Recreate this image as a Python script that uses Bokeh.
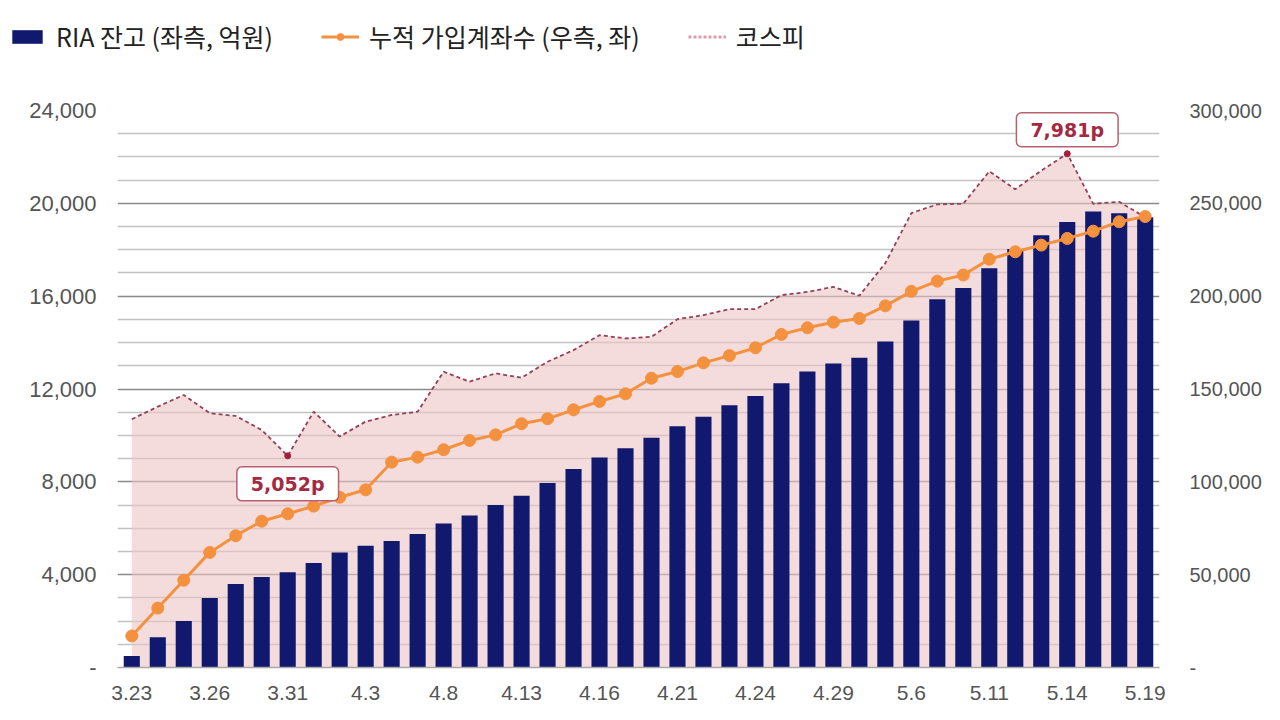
from bokeh.plotting import figure
from bokeh.layouts import column
from bokeh.models import (Range1d, LinearAxis, FixedTicker, NumeralTickFormatter,
                          Legend, LegendItem, Label, ColumnDataSource)
from bokeh.embed import file_html
from bokeh.resources import INLINE

# ---- data -------------------------------------------------------------
dates = ["3.23", "3.24", "3.25", "3.26", "3.27", "3.30", "3.31", "4.1", "4.2", "4.3",
         "4.6", "4.7", "4.8", "4.9", "4.10", "4.13", "4.14", "4.15", "4.16", "4.17",
         "4.20", "4.21", "4.22", "4.23", "4.24", "4.27", "4.28", "4.29", "4.30", "5.4",
         "5.6", "5.7", "5.8", "5.11", "5.12", "5.13", "5.14", "5.15", "5.18", "5.19"]
shown_dates = ["3.23", "3.26", "3.31", "4.3", "4.8", "4.13", "4.16", "4.21", "4.24",
               "4.29", "5.6", "5.11", "5.14", "5.19"]

# RIA balance (left axis, 100 million KRW)
ria_balance = [500, 1300, 2000, 3000, 3600, 3900, 4100, 4500, 4950, 5250,
               5450, 5750, 6200, 6550, 7000, 7400, 7950, 8550, 9050, 9450,
               9900, 10400, 10800, 11300, 11700, 12250, 12750, 13100, 13350, 14050,
               14950, 15870, 16350, 17200, 18030, 18630, 19200, 19650, 19570, 19400]

# cumulative accounts (right axis)
accounts = [17000, 32000, 47000, 62000, 71000, 78800, 82800, 86900, 91700, 95700,
            110600, 113300, 117300, 122300, 125300, 131300, 134000, 138800, 143300, 147400,
            155800, 159400, 164100, 168000, 172200, 179400, 183000, 186000, 188000, 194800,
            202600, 208100, 211400, 219900, 223900, 227500, 231100, 235000, 240100, 242900]

# KOSPI (hidden axis)
kospi = [5407, 5529, 5642, 5465, 5439, 5303, 5052, 5480, 5239, 5384,
         5448, 5480, 5867, 5771, 5852, 5809, 5964, 6077, 6222, 6190,
         6206, 6377, 6416, 6474, 6474, 6610, 6641, 6690, 6605, 6920,
         7405, 7490, 7496, 7810, 7637, 7817, 7981, 7495, 7515, 7365]

left_ticks = [0, 4000, 8000, 12000, 16000, 20000, 24000]
left_minor = [1000, 2000, 3000, 5000, 6000, 7000, 9000, 10000, 11000, 13000, 14000, 15000,
              17000, 18000, 19000, 21000, 22000, 23000]
right_ticks = [0, 50000, 100000, 150000, 200000, 250000, 300000]
left_max, right_max = 24000, 300000
kospi_floor, kospi_top = 3000, 8400
kospi_low_idx, kospi_high_idx = 6, 36

labels_series = ["RIA 잔고 (좌측, 억원)", "누적 가입계좌수 (우측, 좌)", "코스피"]

# ---- style ------------------------------------------------------------
BAR_COLOR = "#10196e"
ORANGE = "#f4913f"
KOSPI_LINE = "#95405a"
KOSPI_FILL = "#eec4c4"
TICK_FONT = "Liberation Sans"
TICK_COLOR = "#555555"

W = 1264
LEG_H = 74
MAIN_H = 704 - LEG_H
TOP, BOTTOM, LEFT, RIGHT = 36, 37, 117, 102

# ---- main chart ---------------------------------------------------------
xs = list(range(len(dates)))
src = ColumnDataSource(dict(x=xs, ria=ria_balance, acc=accounts, kospi=kospi,
                            base=[kospi_floor] * len(xs)))

p = figure(width=W, height=MAIN_H, x_range=Range1d(-0.55, len(dates) - 0.45),
           y_range=Range1d(0, left_max), output_backend="svg",
           toolbar_location=None, min_border_left=LEFT, min_border_right=RIGHT,
           min_border_top=TOP, min_border_bottom=BOTTOM)
p.extra_y_ranges = {"right": Range1d(0, right_max),
                    "kospi": Range1d(kospi_floor, kospi_top)}
p.outline_line_color = None

ya = p.yaxis[0]
ya.ticker = FixedTicker(ticks=left_ticks)
ya.formatter = NumeralTickFormatter(format="0,0")
ya.major_label_overrides = {0: "-"}
ya.axis_line_color = None
ya.major_tick_line_color = None
ya.minor_tick_line_color = None
ya.major_label_text_font = TICK_FONT
ya.major_label_text_font_size = "22px"
ya.major_label_text_color = TICK_COLOR
ya.major_label_standoff = 15

ra = LinearAxis(y_range_name="right", ticker=FixedTicker(ticks=right_ticks),
                formatter=NumeralTickFormatter(format="0,0"))
ra.major_label_overrides = {0: "-"}
ra.axis_line_color = None
ra.major_tick_line_color = None
ra.minor_tick_line_color = None
ra.major_label_text_font = TICK_FONT
ra.major_label_text_font_size = "20px"
ra.major_label_text_color = TICK_COLOR
ra.major_label_standoff = 24
p.add_layout(ra, "right")

xa = p.xaxis[0]
tick_idx = [dates.index(d) for d in shown_dates]
xa.ticker = FixedTicker(ticks=tick_idx)
xa.major_label_overrides = {i: dates[i] for i in tick_idx}
xa.axis_line_color = "#a8a8a8"
xa.axis_line_width = 1.5
xa.major_tick_line_color = None
xa.minor_tick_line_color = None
xa.major_label_text_font = TICK_FONT
xa.major_label_text_font_size = "21px"
xa.major_label_text_color = TICK_COLOR
xa.major_label_standoff = 12

p.xgrid.visible = False
p.ygrid.ticker = FixedTicker(ticks=left_ticks, minor_ticks=left_minor)
p.ygrid.grid_line_color = "#8a8a8a"
p.ygrid.grid_line_width = 1.5
p.ygrid.minor_grid_line_color = "#c2c2c2"
p.ygrid.minor_grid_line_width = 1.5

p.varea(x="x", y1="base", y2="kospi", source=src, y_range_name="kospi",
        fill_color=KOSPI_FILL, fill_alpha=0.6)
p.vbar(x="x", top="ria", width=0.62, source=src, fill_color=BAR_COLOR, line_color=None)
p.line(x="x", y="kospi", source=src, y_range_name="kospi",
       line_color=KOSPI_LINE, line_dash="4 3", line_width=1.8)
p.line(x="x", y="acc", source=src, y_range_name="right", line_color=ORANGE, line_width=3)
p.scatter(x="x", y="acc", source=src, y_range_name="right", size=12,
          fill_color=ORANGE, line_color=ORANGE)

mark_x = [kospi_low_idx, kospi_high_idx]
mark_y = [kospi[kospi_low_idx], kospi[kospi_high_idx]]
p.scatter(x=mark_x, y=mark_y, y_range_name="kospi", size=6,
          fill_color="#a31f3c", line_color="#a31f3c")

for idx, off in ((kospi_low_idx, -28), (kospi_high_idx, 24)):
    p.add_layout(Label(x=idx, y=kospi[idx], y_range_name="kospi",
                       text=f"{kospi[idx]:,}p", text_align="center",
                       text_baseline="middle", y_offset=off,
                       text_font="DejaVu Sans", text_font_style="bold",
                       text_font_size="19px", text_color="#a32a40",
                       background_fill_color="white", border_line_color="#b86070",
                       border_line_width=1.5, padding=(14, 6), border_radius=5))

# ---- legend strip (same styles as the chart's series) ---------------------
lg = figure(width=W, height=LEG_H, x_range=Range1d(0, 1), y_range=Range1d(0, 1),
            output_backend="svg", toolbar_location=None, x_axis_type=None,
            y_axis_type=None, min_border=0, min_border_left=0, min_border_right=0,
            min_border_top=0, min_border_bottom=0)
lg.outline_line_color = None
lg.grid.visible = False
if "frame_align" in lg.properties():
    lg.frame_align = False
nan = float("nan")
key_src = ColumnDataSource(dict(x=[nan], y=[nan]))
leg_bar = lg.vbar(x="x", top="y", width=0.5, source=key_src, fill_color=BAR_COLOR,
                  line_color=None)
leg_acc_line = lg.line(x="x", y="y", source=key_src, line_color=ORANGE, line_width=3)
leg_acc_pts = lg.scatter(x="x", y="y", source=key_src, size=8, fill_color=ORANGE,
                         line_color=ORANGE)
leg_kospi = lg.line(x="x", y="y", source=key_src, line_color="#e29aaa",
                    line_dash="3 2", line_width=3)

legend = Legend(items=[LegendItem(label=labels_series[0], renderers=[leg_bar]),
                       LegendItem(label=labels_series[1], renderers=[leg_acc_line, leg_acc_pts]),
                       LegendItem(label=labels_series[2], renderers=[leg_kospi])],
                orientation="horizontal", location=(8, 20),
                label_text_font="Noto Sans CJK KR", label_text_font_size="25px",
                label_text_color="#222222", glyph_width=38, glyph_height=17,
                label_standoff=10, spacing=48, padding=4, margin=0,
                background_fill_alpha=0, border_line_color=None)
lg.add_layout(legend, "center")

layout = column(lg, p, spacing=0)
open("out.html", "w").write(file_html(layout, INLINE))
